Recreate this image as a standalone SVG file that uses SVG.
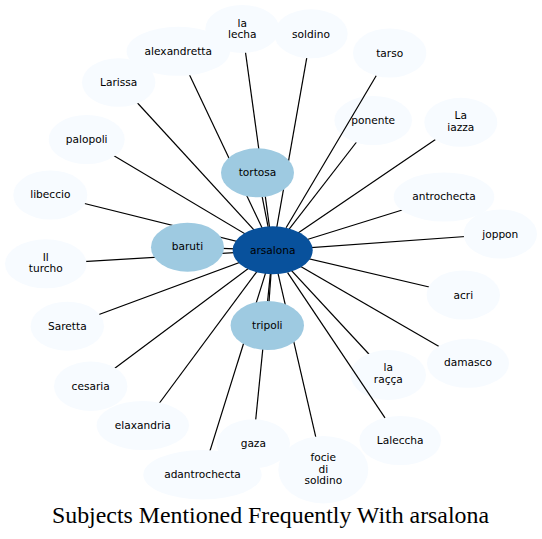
<svg xmlns="http://www.w3.org/2000/svg" width="542" height="539" viewBox="0 0 542 539">
<style>
.e{stroke:#000;stroke-width:1.2;fill:none}
.o{fill:#f7fbff}
.m{fill:#9ecae1}
.c{fill:#08519c}
text{font-family:"DejaVu Sans",sans-serif;font-size:10.6px;fill:#000;text-anchor:middle}
.t{font-family:"Liberation Serif","Times New Roman",serif;font-size:23px}
</style>
<rect width="542" height="539" fill="#fff"/>
<g id="connectors">
<line class="e" x1="272.7" y1="250.3" x2="257.5" y2="172.8"/>
<line class="e" x1="272.7" y1="250.3" x2="187.5" y2="247.2"/>
<line class="e" x1="272.7" y1="250.3" x2="267.3" y2="325.5"/>
<line class="e" x1="272.7" y1="250.3" x2="242.3" y2="29"/>
<line class="e" x1="272.7" y1="250.3" x2="178.3" y2="51.3"/>
<line class="e" x1="272.7" y1="250.3" x2="118.7" y2="82.5"/>
<line class="e" x1="272.7" y1="250.3" x2="86.7" y2="139.5"/>
<line class="e" x1="272.7" y1="250.3" x2="311" y2="33.8"/>
<line class="e" x1="272.7" y1="250.3" x2="373.2" y2="120.5"/>
<line class="e" x1="272.7" y1="250.3" x2="460.8" y2="122.3"/>
<line class="e" x1="272.7" y1="250.3" x2="50.3" y2="195"/>
<line class="e" x1="272.7" y1="250.3" x2="45.8" y2="263.8"/>
<line class="e" x1="272.7" y1="250.3" x2="67.3" y2="326.2"/>
<line class="e" x1="272.7" y1="250.3" x2="444" y2="197"/>
<line class="e" x1="272.7" y1="250.3" x2="500.3" y2="234"/>
<line class="e" x1="272.7" y1="250.3" x2="463.3" y2="295"/>
<line class="e" x1="272.7" y1="250.3" x2="468" y2="363.3"/>
<line class="e" x1="272.7" y1="250.3" x2="388.3" y2="375"/>
<line class="e" x1="272.7" y1="250.3" x2="323.3" y2="469.7"/>
<line class="e" x1="272.7" y1="250.3" x2="253.3" y2="443.8"/>
<line class="e" x1="272.7" y1="250.3" x2="202.5" y2="474.7"/>
<line class="e" x1="272.7" y1="250.3" x2="142.8" y2="425.5"/>
<line class="e" x1="272.7" y1="250.3" x2="90.7" y2="386.3"/>
</g>
<g id="n-lalecha"><ellipse class="o" cx="242.3" cy="29" rx="37" ry="24"/><text x="242.3" y="26.9">la</text><text x="242.3" y="38.4">lecha</text></g>
<g id="n-alexandretta"><ellipse class="o" cx="178.3" cy="51.3" rx="51.7" ry="24.5"/><text x="178.3" y="55">alexandretta</text></g>
<g id="n-larissa"><ellipse class="o" cx="118.7" cy="82.5" rx="36.7" ry="24.3"/><text x="118.7" y="86.2">Larissa</text></g>
<g id="n-palopoli"><ellipse class="o" cx="86.7" cy="139.5" rx="38" ry="24.5"/><text x="86.7" y="143.2">palopoli</text></g>
<g id="n-soldino"><ellipse class="o" cx="311" cy="33.8" rx="36.7" ry="24.5"/><text x="311" y="37.5">soldino</text></g>
<g id="n-tarso"><ellipse class="o" cx="389.7" cy="53" rx="36.7" ry="24.5"/><text x="389.7" y="56.7">tarso</text></g>
<g id="n-ponente"><ellipse class="o" cx="373.2" cy="120.5" rx="38.8" ry="24.5"/><text x="373.2" y="124.2">ponente</text></g>
<g id="n-laiazza"><ellipse class="o" cx="460.8" cy="122.3" rx="36.5" ry="24.5"/><text x="460.8" y="118.8">La</text><text x="460.8" y="130.8">iazza</text></g>
<g id="n-libeccio"><ellipse class="o" cx="50.3" cy="195" rx="37" ry="24.5"/><text x="50.3" y="198.4">libeccio</text></g>
<g id="n-ilturcho"><ellipse class="o" cx="45.8" cy="263.8" rx="40.8" ry="24.5"/><text x="45.8" y="260.5">Il</text><text x="45.8" y="272.4">turcho</text></g>
<g id="n-saretta"><ellipse class="o" cx="67.3" cy="326.2" rx="36.7" ry="24.5"/><text x="67.3" y="329.9">Saretta</text></g>
<g id="n-antrochecta"><ellipse class="o" cx="444" cy="197" rx="50.3" ry="24.5"/><text x="444" y="199.8">antrochecta</text></g>
<g id="n-joppon"><ellipse class="o" cx="500.3" cy="234" rx="36.7" ry="24.5"/><text x="500.3" y="237.7">joppon</text></g>
<g id="n-acri"><ellipse class="o" cx="463.3" cy="295" rx="36.7" ry="24.5"/><text x="463.3" y="298.7">acri</text></g>
<g id="n-damasco"><ellipse class="o" cx="468" cy="363.3" rx="41" ry="24.5"/><text x="468" y="366.3">damasco</text></g>
<g id="n-laracca"><ellipse class="o" cx="388.3" cy="375" rx="37.7" ry="25"/><text x="388.3" y="371">la</text><text x="388.3" y="382.8">raçça</text></g>
<g id="n-laleccha"><ellipse class="o" cx="400.2" cy="440.5" rx="40.8" ry="24.5"/><text x="400.2" y="443.7">Laleccha</text></g>
<g id="n-cesaria"><ellipse class="o" cx="90.7" cy="386.3" rx="36.7" ry="24.7"/><text x="90.7" y="389.6">cesaria</text></g>
<g id="n-elaxandria"><ellipse class="o" cx="142.8" cy="425.5" rx="46.2" ry="24.5"/><text x="142.8" y="428.7">elaxandria</text></g>
<g id="n-gaza"><ellipse class="o" cx="253.3" cy="443.8" rx="36.7" ry="24.5"/><text x="253.3" y="446.7">gaza</text></g>
<g id="n-focie"><ellipse class="o" cx="323.3" cy="469.7" rx="45" ry="33.7"/><text x="323.3" y="461">focie</text><text x="323.3" y="472.7">di</text><text x="323.3" y="484.4">soldino</text></g>
<g id="n-adantrochecta"><ellipse class="o" cx="202.5" cy="474.7" rx="59.2" ry="24.7"/><text x="202.5" y="477.9">adantrochecta</text></g>
<g id="n-tortosa"><ellipse class="m" cx="257.5" cy="172.8" rx="36.5" ry="24.5"/><text x="257.5" y="176.2">tortosa</text></g>
<g id="n-baruti"><ellipse class="m" cx="187.5" cy="247.2" rx="36.5" ry="24.5"/><text x="187.5" y="250.3">baruti</text></g>
<g id="n-tripoli"><ellipse class="m" cx="267.3" cy="325.5" rx="36.7" ry="24.5"/><text x="267.3" y="328.7">tripoli</text></g>
<g id="n-arsalona"><ellipse class="c" cx="272.7" cy="250.3" rx="40" ry="24"/><text x="272.7" y="253.8">arsalona</text></g>
<g id="connectors-top">
<line class="e" x1="286.1" y1="227.7" x2="376.2" y2="75.8"/>
<line class="e" x1="287.6" y1="272.6" x2="385" y2="417.8"/>
</g>
<text class="t" x="270.5" y="523" textLength="437" lengthAdjust="spacingAndGlyphs">Subjects Mentioned Frequently With arsalona</text>
</svg>
